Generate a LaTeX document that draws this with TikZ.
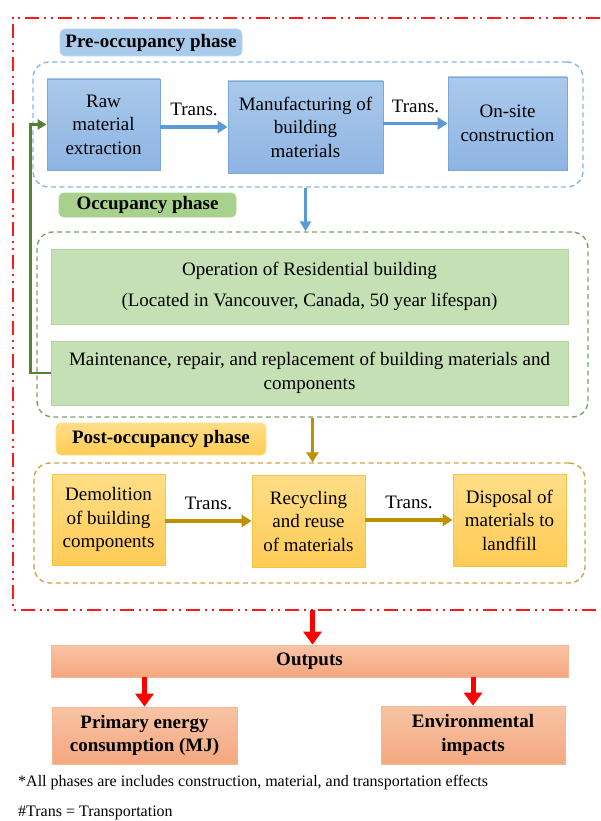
\documentclass[tikz,border=0pt]{standalone}
\usepackage{fontspec}
\setmainfont{Liberation Serif}
\usetikzlibrary{arrows.meta,positioning}

\definecolor{bluetop}{HTML}{AACAEB}
\definecolor{bluebot}{HTML}{8EB4E3}
\definecolor{blueline}{HTML}{7BA7DA}
\definecolor{bluearrow}{HTML}{5B9BD5}
\definecolor{bluedash}{HTML}{8AB6E2}
\definecolor{greenfill}{HTML}{C5E0B4}
\definecolor{greenline}{HTML}{B2D59C}
\definecolor{greenlabel}{HTML}{A9D18E}
\definecolor{greendash}{HTML}{7F9F6E}
\definecolor{greenarrow}{HTML}{548235}
\definecolor{goldtop}{HTML}{FFDE88}
\definecolor{goldbot}{HTML}{FFCB55}
\definecolor{goldline}{HTML}{F6C445}
\definecolor{goldarrow}{HTML}{BF9000}
\definecolor{golddash}{HTML}{C9A64A}
\definecolor{orangetop}{HTML}{F8C4A6}
\definecolor{orangebot}{HTML}{F4A77F}
\definecolor{orangeline}{HTML}{F6B894}
\definecolor{framered}{HTML}{FF1A1A}

\begin{document}
\begin{tikzpicture}[x=1pt,y=-1pt,
	every node/.style={inner sep=0pt,align=center},
	boxtext/.style={font=\fontsize{19}{23.5}\selectfont},
	bluebox/.style={boxtext,draw=blueline,line width=0.8pt,top color=bluetop,bottom color=bluebot},
	greenbox/.style={boxtext,draw=greenline,line width=0.8pt,fill=greenfill},
	goldbox/.style={boxtext,draw=goldline,line width=0.8pt,top color=goldtop,bottom color=goldbot},
	outbox/.style={font=\fontsize{19}{23.5}\selectfont\bfseries,draw=orangeline,line width=0.8pt,top color=orangetop,bottom color=orangebot},
	phaselabel/.style={font=\fontsize{19}{21}\selectfont\bfseries,rounded corners=5pt,line width=0.8pt},
	container/.style={dashed,dash pattern=on 5pt off 3.5pt,rounded corners=16pt,line width=1.4pt},
	trans/.style={line width=3.5pt,-{Triangle[length=10pt,width=12pt]}},
	translabel/.style={boxtext,midway,above=9pt},
	redarrow/.style={draw=red,line width=5pt,-{Triangle[length=13pt,width=18pt]}}
	]
	\useasboundingbox (0,0) rectangle (601,821);

	% outer frame (open on the right, runs off the page)
	\node[minimum width=620pt,minimum height=592pt] (frame) at (323,314) {};
	\draw[framered,line width=2.4pt,dash pattern=on 14pt off 5pt on 2pt off 5pt on 2pt off 5pt]
		(frame.north east) -- (frame.north west) -- (frame.south west) -- (frame.south east);

	% pre-occupancy
	\node[phaselabel,fill=bluetop,draw=bluetop!80] (prelabel) at (151,42.5)
		{\parbox[c][27pt][c]{182pt}{\centering Pre-occupancy phase}};
	\node[container,draw=bluedash,minimum width=550pt,minimum height=125pt] (pre) at (308,124.5) {};
	\node[bluebox,minimum width=113pt,minimum height=91pt] (raw) at (103.5,124.5) {Raw\\material\\extraction};
	\node[bluebox,minimum width=155pt,minimum height=92pt] (manu) at (305.5,127) {Manufacturing of\\building\\materials};
	\node[bluebox,minimum width=119pt,minimum height=93pt] (onsite) at (507.5,123.5) {On-site\\construction};

	\draw[trans,bluearrow] (raw.east |- manu.west) -- node[translabel,black]{Trans.} (manu.west);
	\draw[trans,bluearrow] (manu.east |- onsite.west) -- node[translabel,black]{Trans.} (onsite.west);

	% occupancy
	\node[phaselabel,fill=greenlabel,draw=greenlabel] (occlabel) at (147.5,205)
		{\parbox[c][24pt][c]{177pt}{\centering Occupancy phase}};
	\node[container,draw=greendash,minimum width=551pt,minimum height=185pt] (occ) at (312.5,324.5) {};
	\node[greenbox,minimum width=517pt,minimum height=75pt] (opr) at (309.5,286.5)
		{Operation of Residential building\\[8pt](Located in Vancouver, Canada, 50 year lifespan)};
	\node[greenbox,minimum width=517pt,minimum height=64pt] (maint) at (309.5,373)
		{Maintenance, repair, and replacement of building materials and\\components};

	\draw[line width=3pt,bluearrow,-{Triangle[length=10pt,width=11pt]}] (pre.south -| manu) -- (occ.north -| manu);
	\draw[line width=2.6pt,greenarrow,-{Triangle[length=9pt,width=10pt]}] (maint.west) -- ++(-20,0) |- (raw.west);

	% post-occupancy
	\node[phaselabel,top color=goldtop,bottom color=goldbot,draw=goldtop] (postlabel) at (161,439)
		{\parbox[c][32pt][c]{210pt}{\centering Post-occupancy phase}};
	\node[container,draw=golddash,minimum width=551pt,minimum height=120pt] (post) at (309.5,523) {};
	\node[goldbox,minimum width=113pt,minimum height=91pt] (demo) at (108.5,519.5) {Demolition\\of building\\components};
	\node[goldbox,minimum width=113pt,minimum height=92pt] (recyc) at (308.5,521) {Recycling\\and reuse\\of materials};
	\node[goldbox,minimum width=113pt,minimum height=92pt] (disp) at (509.5,520) {Disposal of\\materials to\\landfill};

	\draw[line width=3pt,goldarrow,-{Triangle[length=10pt,width=12pt]}] (occ.south) -- (occ.south |- post.north);
	\draw[trans,goldarrow] (demo.east |- recyc.west) -- node[translabel,black]{Trans.} (recyc.west);
	\draw[trans,goldarrow] (recyc.east |- disp.west) -- node[translabel,black]{Trans.} (disp.west);

	% outputs
	\node[outbox,minimum width=517pt,minimum height=32pt] (outputs) at (309.5,661) {Outputs};
	\node[outbox,minimum width=185pt,minimum height=57pt] (primary) at (144.5,735.5) {Primary energy\\consumption (MJ)};
	\node[outbox,minimum width=184pt,minimum height=58pt] (env) at (473,735) {Environmental\\impacts};

	\draw[redarrow] (frame.south -| occ.south) -- (occ.south |- outputs.north);
	\draw[redarrow] (outputs.south -| primary) -- (primary.north);
	\draw[redarrow] (outputs.south -| env) -- (env.north);

	% notes
	\node[anchor=west,font=\fontsize{16}{18}\selectfont] (note1) at (18,783)
		{*All phases are includes construction, material, and transportation effects};
	\node[anchor=west,font=\fontsize{16}{18}\selectfont] (note2) at (18,813) {\#Trans = Transportation};

\end{tikzpicture}
\end{document}
